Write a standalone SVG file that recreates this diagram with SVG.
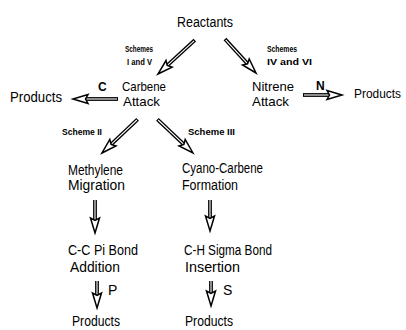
<svg xmlns="http://www.w3.org/2000/svg" xmlns:xlink="http://www.w3.org/1999/xlink" width="406" height="330" viewBox="0 0 406 330">
<style>
text{font-family:"Liberation Sans",Arial,sans-serif;fill:#000}
.t{font-size:14px}
.t2{font-size:13px}
.t3{font-size:12px}
.s{font-size:9px;font-weight:bold}
.l{font-size:12px;font-weight:bold}
.sh{stroke:#000;stroke-width:3.8;fill:none}
.sw{stroke:#fff;stroke-width:1.1;fill:none}
.hd{fill:#fff;stroke:#000;stroke-width:1.5;stroke-linejoin:miter}
</style>
<defs>
<polygon id="head" class="hd" points="0,0 -15,-4.5 -12.5,0 -15,4.5"/>
</defs>
<rect width="406" height="330" fill="#fff"/>
<g id="connectors">
<g transform="translate(158,74) rotate(137.4)"><line class="sh" x1="-50" y1="0" x2="-13" y2="0"/><line class="sw" x1="-49" y1="0" x2="-13" y2="0"/><use xlink:href="#head"/></g>
<g transform="translate(256,73) rotate(47.6)"><line class="sh" x1="-46" y1="0" x2="-13" y2="0"/><line class="sw" x1="-45" y1="0" x2="-13" y2="0"/><use xlink:href="#head"/></g>
<g transform="translate(73,99) rotate(180)"><line class="sh" x1="-45" y1="0" x2="-13" y2="0"/><line class="sw" x1="-44" y1="0" x2="-13" y2="0"/><use xlink:href="#head"/></g>
<g transform="translate(342,95)"><line class="sh" x1="-39" y1="0" x2="-13" y2="0"/><line class="sw" x1="-38" y1="0" x2="-13" y2="0"/><use xlink:href="#head"/></g>
<g transform="translate(102,153) rotate(136.6)"><line class="sh" x1="-49" y1="0" x2="-13" y2="0"/><line class="sw" x1="-48" y1="0" x2="-13" y2="0"/><use xlink:href="#head"/></g>
<g transform="translate(193,153) rotate(43.4)"><line class="sh" x1="-49" y1="0" x2="-13" y2="0"/><line class="sw" x1="-48" y1="0" x2="-13" y2="0"/><use xlink:href="#head"/></g>
<g transform="translate(95,233) rotate(90)"><line class="sh" x1="-33" y1="0" x2="-13" y2="0"/><line class="sw" x1="-33" y1="0" x2="-13" y2="0"/><use xlink:href="#head"/></g>
<g transform="translate(210,231) rotate(90)"><line class="sh" x1="-31" y1="0" x2="-13" y2="0"/><line class="sw" x1="-31" y1="0" x2="-13" y2="0"/><use xlink:href="#head"/></g>
<g transform="translate(97,308) rotate(90)"><line class="sh" x1="-27" y1="0" x2="-13" y2="0"/><line class="sw" x1="-27" y1="0" x2="-13" y2="0"/><use xlink:href="#head"/></g>
<g transform="translate(211,306) rotate(90)"><line class="sh" x1="-25" y1="0" x2="-13" y2="0"/><line class="sw" x1="-25" y1="0" x2="-13" y2="0"/><use xlink:href="#head"/></g>
<text class="s" x="125" y="52" textLength="28" lengthAdjust="spacingAndGlyphs">Schemes</text>
<text class="s" x="127" y="65" textLength="25" lengthAdjust="spacingAndGlyphs">I and V</text>
<text class="s" x="267" y="52" textLength="30" lengthAdjust="spacingAndGlyphs">Schemes</text>
<text class="s" x="267" y="65" textLength="45" lengthAdjust="spacingAndGlyphs">IV and VI</text>
<text class="l" x="98" y="91">C</text>
<text class="l" x="316" y="90">N</text>
<text class="s" x="62" y="135" textLength="40" lengthAdjust="spacingAndGlyphs">Scheme II</text>
<text class="s" x="188" y="135" textLength="47" lengthAdjust="spacingAndGlyphs">Scheme III</text>
<text class="t" x="108" y="295">P</text>
<text class="t" x="223" y="295">S</text>
</g>
<g id="reactants"><text class="t" x="177" y="27" textLength="56" lengthAdjust="spacingAndGlyphs">Reactants</text></g>
<g id="carbene"><text class="t2" x="122" y="91" textLength="44" lengthAdjust="spacingAndGlyphs">Carbene</text><text class="t2" x="123" y="106" textLength="37" lengthAdjust="spacingAndGlyphs">Attack</text></g>
<g id="nitrene"><text class="t2" x="252" y="91" textLength="42" lengthAdjust="spacingAndGlyphs">Nitrene</text><text class="t2" x="252" y="106" textLength="37" lengthAdjust="spacingAndGlyphs">Attack</text></g>
<g id="products-c"><text class="t" x="10" y="102" textLength="52" lengthAdjust="spacingAndGlyphs">Products</text></g>
<g id="products-n"><text class="t3" x="354" y="98" textLength="47" lengthAdjust="spacingAndGlyphs">Products</text></g>
<g id="methylene"><text class="t" x="68" y="175" textLength="55" lengthAdjust="spacingAndGlyphs">Methylene</text><text class="t" x="68" y="190" textLength="57" lengthAdjust="spacingAndGlyphs">Migration</text></g>
<g id="cyano"><text class="t" x="182" y="173" textLength="81" lengthAdjust="spacingAndGlyphs">Cyano-Carbene</text><text class="t" x="182" y="190" textLength="56" lengthAdjust="spacingAndGlyphs">Formation</text></g>
<g id="pibond"><text class="t" x="68" y="255" textLength="70" lengthAdjust="spacingAndGlyphs">C-C Pi Bond</text><text class="t" x="70" y="272" textLength="50" lengthAdjust="spacingAndGlyphs">Addition</text></g>
<g id="sigmabond"><text class="t" x="184" y="255" textLength="88" lengthAdjust="spacingAndGlyphs">C-H Sigma Bond</text><text class="t" x="185" y="272" textLength="55" lengthAdjust="spacingAndGlyphs">Insertion</text></g>
<g id="products-p"><text class="t" x="72" y="326" textLength="48" lengthAdjust="spacingAndGlyphs">Products</text></g>
<g id="products-s"><text class="t" x="185" y="326" textLength="48" lengthAdjust="spacingAndGlyphs">Products</text></g>
</svg>
